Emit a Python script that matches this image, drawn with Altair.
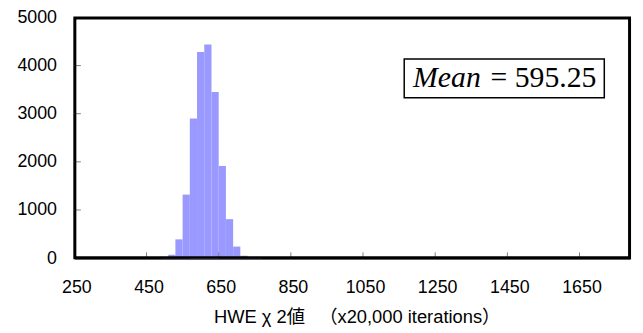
import altair as alt
import pandas as pd

# histogram bins (lower edge, upper edge) and counts
bin_start = [490, 510, 530, 550, 570, 590, 610, 630, 650, 670, 690, 710, 730, 750]
bin_end = [510, 530, 550, 570, 590, 610, 630, 650, 670, 690, 710, 730, 750, 770]
counts = [10, 70, 390, 1320, 2900, 4280, 4440, 3450, 1915, 810, 240, 50, 15, 5]

x_ticks = [250, 450, 650, 850, 1050, 1250, 1450, 1650]
y_ticks = [0, 1000, 2000, 3000, 4000, 5000]
x_inner_ticks = [450, 650, 850, 1050, 1250, 1450, 1650]
y_inner_ticks = [1000, 2000, 3000, 4000]
x_range = [250, 1790]
y_range = [0, 5000]

mean_word = "Mean"
mean_label = "= 595.25"
x_title = "HWE χ 2値\u2002\u00a0（x20,000 iterations）"

df = pd.DataFrame({"start": bin_start, "end": bin_end, "count": counts})

LABEL_FONT = "Liberation Sans, Noto Sans CJK JP"
W, H = 561, 243

xscale = alt.Scale(domain=x_range, nice=False, zero=False)
yscale = alt.Scale(domain=y_range, nice=False)

one = pd.DataFrame({"a": [0]})

bars = alt.Chart(df).mark_rect(color="#9999ff").encode(
    x=alt.X("start:Q", scale=xscale,
            axis=alt.Axis(values=x_ticks, format="d", title=x_title, ticks=False,
                          domain=True, domainColor="black", domainWidth=2,
                          labelFlush=False, labelFont=LABEL_FONT, labelFontSize=18,
                          labelColor="black", labelPadding=21, labelOffset=2,
                          titleFont=LABEL_FONT, titleFontSize=18.5, titleFontWeight="normal",
                          titleColor="black", titleX=285, titleY=65,
                          titleBaseline="alphabetic", titleAlign="center", grid=False)),
    x2="end:Q",
    y=alt.Y("count:Q", scale=yscale,
            axis=alt.Axis(values=y_ticks, format="d", title=None, ticks=False,
                          domain=True, domainColor="black", domainWidth=2,
                          labelFlush=False, labelFont=LABEL_FONT, labelFontSize=18,
                          labelColor="black", labelPadding=18, grid=False)),
    y2=alt.datum(0),
)

# plot frame, drawn as four rules slightly inside the plot edges
frame_left = alt.Chart(one).mark_rule(color="black", strokeWidth=2).encode(
    x=alt.value(1), y=alt.value(1), y2=alt.value(H - 1))
frame_right = alt.Chart(one).mark_rule(color="black", strokeWidth=2).encode(
    x=alt.value(W - 1), y=alt.value(1), y2=alt.value(H - 1))
frame_top = alt.Chart(one).mark_rule(color="black", strokeWidth=2).encode(
    y=alt.value(1), x=alt.value(0), x2=alt.value(W))
frame_bottom = alt.Chart(one).mark_rule(color="black", strokeWidth=2).encode(
    y=alt.value(H - 1), x=alt.value(0), x2=alt.value(W))

xt = alt.Chart(pd.DataFrame({"v": x_inner_ticks, "lo": [0] * 7, "hi": [120] * 7})).mark_rule(
    color="#808080", strokeWidth=1
).encode(x=alt.X("v:Q", scale=xscale), y=alt.Y("lo:Q", scale=yscale), y2="hi:Q")
yt = alt.Chart(pd.DataFrame({"v": y_inner_ticks, "lo": [250] * 4, "hi": [268] * 4})).mark_rule(
    color="#808080", strokeWidth=1
).encode(y=alt.Y("v:Q", scale=yscale), x=alt.X("lo:Q", scale=xscale), x2="hi:Q")

box = alt.Chart(one).mark_rect(
    fill="white", stroke="black", strokeWidth=1.5
).encode(x=alt.value(333), x2=alt.value(535), y=alt.value(42), y2=alt.value(81))

t1 = alt.Chart(pd.DataFrame({"t": [mean_word]})).mark_text(
    font="Liberation Serif", fontSize=30, fontStyle="italic", align="left",
    baseline="alphabetic", color="black"
).encode(text="t:N", x=alt.value(342), y=alt.value(70))

t2 = alt.Chart(pd.DataFrame({"t": [mean_label]})).mark_text(
    font="Liberation Serif", fontSize=30, align="right",
    baseline="alphabetic", color="black"
).encode(text="t:N", x=alt.value(527), y=alt.value(70))

chart = alt.layer(bars, xt, yt, frame_left, frame_right, frame_top, frame_bottom,
                  box, t1, t2).properties(
    width=W, height=H,
    padding={"left": 67, "top": 8, "right": 5, "bottom": 69},
    autosize="none",
    background="white",
).configure_view(stroke="black", strokeWidth=2)

chart.save("out.html", embed_options={"renderer": "svg", "actions": False})
